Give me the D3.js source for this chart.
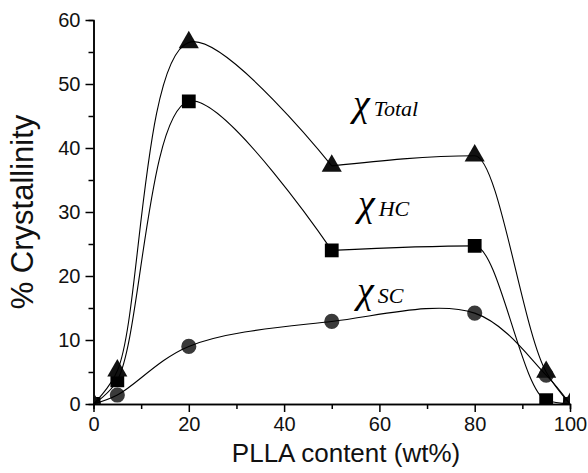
<!DOCTYPE html>
<html>
<head>
<meta charset="utf-8">
<script src="https://cdn.jsdelivr.net/npm/d3@7"></script>
<style>
  body { margin: 0; background: #fff; }
  text { font-family: "Liberation Sans", Arial, sans-serif; }
  .lbl { font-family: "Liberation Serif", "Times New Roman", serif; font-style: italic; }
</style>
</head>
<body>
<div id="root"></div>
<script>
// PLLA content (wt%) and crystallinity
const plla = [0, 5, 20, 50, 80, 95, 100];
const chiTotal = [0, 5.2, 56.5, 37.2, 38.8, 5.0, 0];
const chiHC = [0, 3.7, 47.3, 24.0, 24.7, 0.6, 0];
const chiSC = [0, 1.4, 9.0, 12.9, 14.2, 4.5, 0];

const xTicks = [0, 20, 40, 60, 80, 100];
const xMinor = [10, 30, 50, 70, 90];
const yTicks = [0, 10, 20, 30, 40, 50, 60];
const yMinor = [5, 15, 25, 35, 45, 55];

const outerWidth = 588;
const outerHeight = 473;
const margin = { top: 20, right: 18, bottom: 69, left: 93.5 };
const width = outerWidth - margin.left - margin.right;
const height = outerHeight - margin.top - margin.bottom;

let scaleX = d3.scaleLinear().domain([0, 100]).range([0, width]);
let scaleY = d3.scaleLinear().domain([0, 60]).range([height, 0]);

let svg = d3.select("#root")
            .append("svg")
            .attr("width", outerWidth)
            .attr("height", outerHeight);

let chart = svg.append("g")
               .attr("transform", `translate(${margin.left}, ${margin.top})`);

chart.append("clipPath")
     .attr("id", "plot-clip")
     .append("rect")
     .attr("width", width)
     .attr("height", height);

// axes: major ticks with labels, minor ticks without
function styleAxis(g) {
    g.select(".domain").attr("stroke", "#000").attr("stroke-width", 1.5);
    g.selectAll(".tick line").attr("stroke", "#000").attr("stroke-width", 1.5);
    g.selectAll(".tick text").attr("fill", "#111").style("font-size", "20px");
}

chart.append("g")
     .attr("transform", `translate(0, ${height})`)
     .call(d3.axisBottom(scaleX).tickValues(xMinor).tickSize(5).tickFormat(""))
     .call(styleAxis);
chart.append("g")
     .attr("transform", `translate(0, ${height})`)
     .call(d3.axisBottom(scaleX).tickValues(xTicks).tickSize(8).tickSizeOuter(0).tickPadding(5))
     .call(styleAxis);

chart.append("g")
     .call(d3.axisLeft(scaleY).tickValues(yMinor).tickSize(5).tickFormat(""))
     .call(styleAxis);
chart.append("g")
     .call(d3.axisLeft(scaleY).tickValues(yTicks).tickSize(8).tickSizeOuter(0).tickPadding(5))
     .call(styleAxis);

// markers (clipped to the plot frame like the original)
let markers = chart.append("g").attr("clip-path", "url(#plot-clip)");

function drawMarkers(values, type, size, color) {
    markers.selectAll(null)
        .data(values)
        .enter().append("path")
        .attr("d", d3.symbol().type(type).size(size))
        .attr("transform", (d, i) => `translate(${scaleX(plla[i])}, ${scaleY(d)})`)
        .attr("fill", color);
}

drawMarkers(chiSC, d3.symbolCircle, 180, "#3a3a3a");
drawMarkers(chiHC, d3.symbolSquare, 190, "#000");
drawMarkers(chiTotal, d3.symbolTriangle, 175, "#111");

// smooth connecting curves, drawn piece by piece (index range [from, to])
function drawCurve(values, from, to, curve) {
    let line = d3.line()
                 .x(i => scaleX(plla[i]))
                 .y(i => scaleY(values[i]))
                 .curve(curve);
    chart.append("path")
         .datum(d3.range(from, to + 1))
         .attr("d", line)
         .attr("fill", "none")
         .attr("stroke", "#000")
         .attr("stroke-width", 1.1);
}

drawCurve(chiTotal, 0, 3, d3.curveCatmullRom);
drawCurve(chiTotal, 3, 6, d3.curveMonotoneX);
drawCurve(chiHC, 0, 3, d3.curveCatmullRom);
drawCurve(chiHC, 3, 6, d3.curveMonotoneX);
drawCurve(chiSC, 0, 6, d3.curveCatmullRom);

// series labels
const seriesLabels = [
    { sub: "Total", x: 353, y: 116 },
    { sub: "HC", x: 358, y: 216 },
    { sub: "SC", x: 357, y: 303 }
];

let lbl = svg.selectAll(".lbl")
             .data(seriesLabels)
             .enter().append("text")
             .attr("class", "lbl")
             .attr("x", d => d.x)
             .attr("y", d => d.y)
             .attr("fill", "#000");
lbl.append("tspan").style("font-size", "38px").text("χ");
lbl.append("tspan").style("font-size", "22px").attr("dx", 4).text(d => d.sub);

// axis titles
svg.append("text")
   .attr("x", 346)
   .attr("y", 462)
   .style("text-anchor", "middle")
   .style("font-size", "26px")
   .attr("fill", "#111")
   .text("PLLA content (wt%)");

svg.append("text")
   .attr("transform", `translate(33, ${margin.top + height / 2}) rotate(-90)`)
   .style("text-anchor", "middle")
   .style("font-size", "31px")
   .attr("fill", "#111")
   .text("% Crystallinity");
</script>
</body>
</html>
